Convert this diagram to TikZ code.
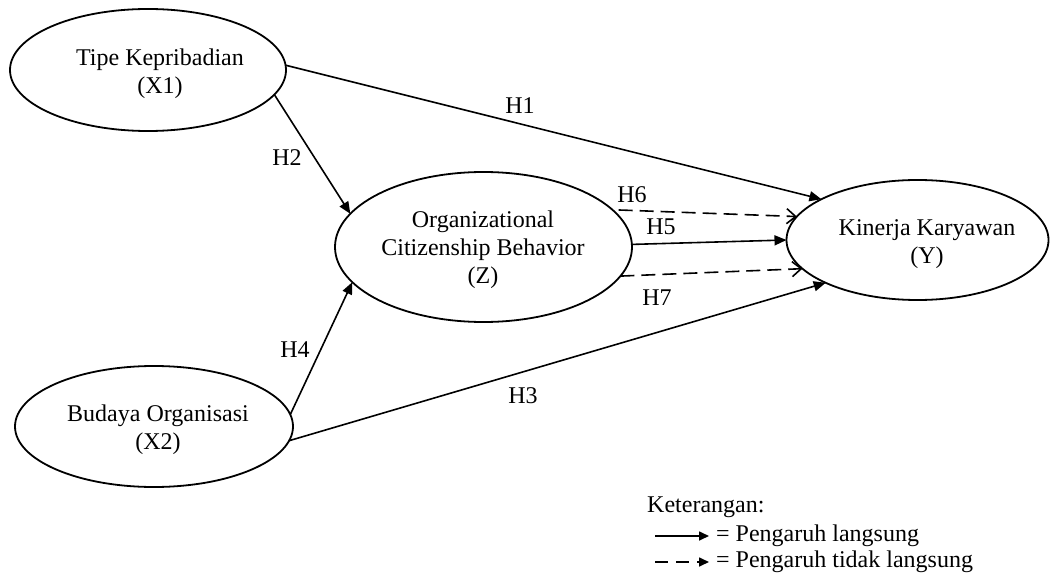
\documentclass[tikz,border=0pt]{standalone}
\usepackage{fontspec}
\setmainfont{Liberation Serif}
\usetikzlibrary{arrows.meta,shapes.geometric,calc}
\begin{document}
\begin{tikzpicture}[x=1pt,y=-1pt,
  latent/.style={draw, ellipse, line width=1.8pt, inner sep=0pt, outer sep=0pt},
  lbl/.style={align=center, font=\fontsize{24}{28}\selectfont, inner sep=0pt},
  hyp/.style={font=\fontsize{24}{28}\selectfont, inner sep=0pt},
  direct/.style={line width=1.6pt, -{Triangle[length=12pt,width=10pt]}},
  indirect/.style={line width=1.6pt, dash pattern=on 14pt off 7pt, -{Straight Barb[length=9pt,width=15pt,line width=1.6pt]}},
  legdirect/.style={line width=1.6pt, -{Triangle[length=10pt,width=9pt]}},
  legindirect/.style={line width=1.6pt, dash pattern=on 13pt off 8pt, -{Triangle[length=10pt,width=9pt]}},
]
\useasboundingbox (0,0) rectangle (1051,577);

% latent variables
\node[latent, minimum width=276pt, minimum height=122pt] (x1) at (148,70) {};
\node[lbl] at (160,74) {Tipe Kepribadian\\(X1)};

\node[latent, minimum width=297pt, minimum height=150pt] (z) at (483.5,247) {};
\node[lbl] at (483,250) {Organizational\\Citizenship Behavior\\(Z)};

\node[latent, minimum width=262pt, minimum height=120pt] (y) at (917.5,240) {};
\node[lbl] at (927,244) {Kinerja Karyawan\\(Y)};

\node[latent, minimum width=278pt, minimum height=121pt] (x2) at (154,426.5) {};
\node[lbl] at (158,430) {Budaya Organisasi\\(X2)};

% paths
\draw[direct] (x1.2) -- (y.157);
\draw[direct] (x1.-11) -- (z.166);
\draw[direct] (x2.5.5) -- (z.195.5);
\draw[direct] (x2.-6.9) -- (y.205.5);
\draw[direct] (z.1) -- (y.180);
\draw[indirect] ([xshift=6pt]z.16) -- (y.169);
\draw[indirect] (z.-12.7) -- (y.194.2);

% hypothesis labels
\node[hyp] (h1) at (520,106) {H1};
\node[hyp] (h2) at (287,158) {H2};
\node[hyp] (h3) at (523,396) {H3};
\node[hyp] (h4) at (295,350) {H4};
\node[hyp] (h5) at (661,227) {H5};
\node[hyp] (h6) at (632,195) {H6};
\node[hyp] (h7) at (657,298) {H7};

% legend
\node[hyp, anchor=west] (ket) at (647,507) {Keterangan:};
\coordinate (l1s) at (655,536);
\coordinate (l1e) at (709,536);
\coordinate (l2s) at (655,562);
\coordinate (l2e) at (709,562);
\draw[legdirect] (l1s) -- (l1e);
\draw[legindirect] (l2s) -- (l2e);
\node[hyp, anchor=west] (leg1) at (716,536) {= Pengaruh langsung};
\node[hyp, anchor=west] (leg2) at (716,562) {= Pengaruh tidak langsung};
\end{tikzpicture}
\end{document}
